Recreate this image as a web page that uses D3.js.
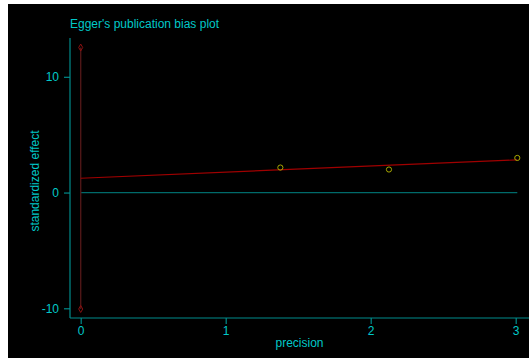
<!DOCTYPE html>
<html>
<head>
<meta charset="utf-8">
<script src="https://cdn.jsdelivr.net/npm/d3@7"></script>
<style>
  html, body { margin: 0; padding: 0; background: #fff; }
  svg { display: block; }
  text { font-family: "Liberation Sans", Arial, sans-serif; }
</style>
</head>
<body>
<svg id="chart" width="529" height="358"></svg>
<script>
// Study points: precision (1/SE) and standardized effect (effect/SE)
const precision = [1.377, 2.126, 3.011];
const stdEffect = [2.16, 1.99, 2.99];

// Egger regression: intercept and slope, with the intercept's confidence interval
const eggerIntercept = 1.236;
const eggerSlope = 0.527;
const interceptCI = [-10.06, 12.53];

// Axis ticks
const xTicks = [0, 1, 2, 3];
const yTicks = [-10, 0, 10];

const title = "Egger's publication bias plot";
const xLabel = "precision";
const yLabel = "standardized effect";

const W = 529, H = 358;
const svg = d3.select("#chart");

// dark panel with a thin white strip along the top and left
svg.append("rect").attr("x", 8).attr("y", 4).attr("width", W - 8).attr("height", H - 4).attr("fill", "#000");

const plotLeft = 70, plotTop = 38, plotBottom = 318;
const x = d3.scaleLinear().domain([0, 3]).range([80.7, 515.7]);
const y = d3.scaleLinear().domain([-10, 10]).range([308.3, 76.8]);

const axisColor = "#008b8b";
const textColor = "#00c8c8";
const plainNum = d => String(d);

// axes
const xAxis = svg.append("g").attr("transform", `translate(0,${plotBottom})`)
  .call(d3.axisBottom(x).tickValues(xTicks).tickFormat(plainNum).tickSize(6).tickPadding(2));
const yAxis = svg.append("g").attr("transform", `translate(${plotLeft},0)`)
  .call(d3.axisLeft(y).tickValues(yTicks).tickFormat(plainNum).tickSize(6).tickPadding(5));

[xAxis, yAxis].forEach(g => {
  g.select(".domain").remove();
  g.selectAll(".tick line").attr("stroke", axisColor).attr("stroke-width", 1.2);
  g.selectAll(".tick text").attr("fill", textColor).attr("font-size", 12)
    .attr("font-family", "Liberation Sans, Arial, sans-serif");
});
svg.append("line").attr("x1", plotLeft).attr("x2", W).attr("y1", plotBottom).attr("y2", plotBottom)
  .attr("stroke", axisColor).attr("stroke-width", 1.2);
svg.append("line").attr("x1", plotLeft).attr("x2", plotLeft).attr("y1", plotTop).attr("y2", plotBottom)
  .attr("stroke", axisColor).attr("stroke-width", 1.2);

const maxPrec = d3.max(precision);

// zero reference line
svg.append("line").attr("x1", x(0)).attr("x2", x(maxPrec)).attr("y1", y(0)).attr("y2", y(0))
  .attr("stroke", "#006a6a").attr("stroke-width", 1.2);

// confidence interval of the intercept
svg.append("line").attr("x1", x(0)).attr("x2", x(0))
  .attr("y1", y(interceptCI[0])).attr("y2", y(interceptCI[1]))
  .attr("stroke", "#4e1616").attr("stroke-width", 1.4);
svg.selectAll(".ci-end").data(interceptCI).enter().append("path")
  .attr("d", d3.symbol(d3.symbolDiamond, 14))
  .attr("transform", d => `translate(${x(0)},${y(d)})`)
  .attr("fill", "none").attr("stroke", "#8b1010").attr("stroke-width", 1);

// regression line
svg.append("line")
  .attr("x1", x(0)).attr("y1", y(eggerIntercept))
  .attr("x2", x(maxPrec)).attr("y2", y(eggerIntercept + eggerSlope * maxPrec))
  .attr("stroke", "#a00000").attr("stroke-width", 1.2);

// study points
svg.selectAll(".pt").data(precision).enter().append("circle")
  .attr("cx", d => x(d)).attr("cy", (d, i) => y(stdEffect[i])).attr("r", 2.6)
  .attr("fill", "none").attr("stroke", "#a8a800").attr("stroke-width", 1);

// title and axis titles
svg.append("text").attr("x", 70).attr("y", 28).attr("fill", textColor).attr("font-size", 12).text(title);
svg.append("text").attr("x", 299.5).attr("y", 347).attr("text-anchor", "middle")
  .attr("fill", textColor).attr("font-size", 12).text(xLabel);
svg.append("text").attr("transform", "translate(39,181) rotate(-90)").attr("text-anchor", "middle")
  .attr("fill", textColor).attr("font-size", 12).text(yLabel);
</script>
</body>
</html>
